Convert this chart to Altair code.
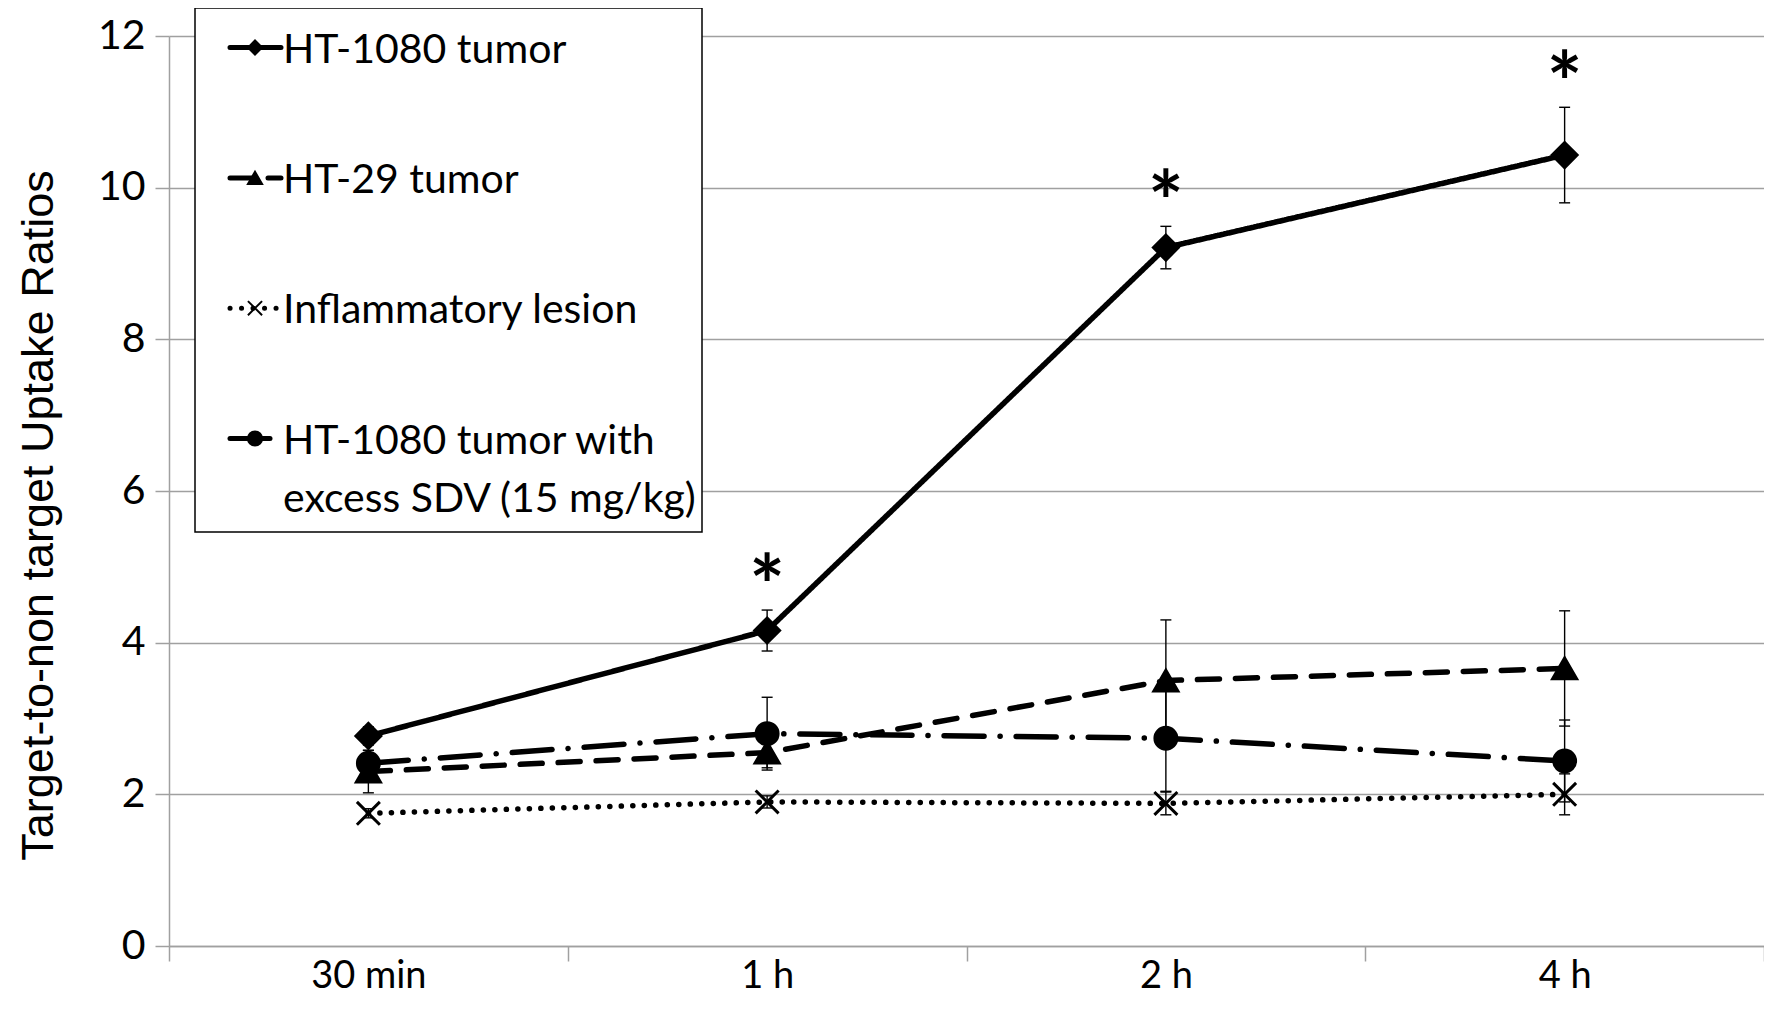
import altair as alt
import pandas as pd

# ---------------- data ----------------
times = ["30 min", "1 h", "2 h", "4 h"]
series = [
    "HT-1080 tumor",
    "HT-29 tumor",
    "Inflammatory lesion",
    "HT-1080 tumor with\nexcess SDV (15 mg/kg)",
]

ht1080_mean = [2.77, 4.16, 9.21, 10.43]
ht1080_err = [0.12, 0.27, 0.28, 0.63]
ht29_mean = [2.30, 2.55, 3.50, 3.66]
ht29_err = [0.28, 0.20, 0.80, 0.76]
infl_mean = [1.75, 1.90, 1.88, 2.00]
infl_err = [0.06, 0.08, 0.15, 0.27]
sdv_mean = [2.41, 2.80, 2.74, 2.44]
sdv_err = [0.17, 0.48, 0.70, 0.54]
ht1080_significant = [False, True, True, True]

means = [ht1080_mean, ht29_mean, infl_mean, sdv_mean]
errs = [ht1080_err, ht29_err, infl_err, sdv_err]
sigs = [ht1080_significant, [False] * 4, [False] * 4, [False] * 4]

rows = []
for s, m, e, g in zip(series, means, errs, sigs):
    for t, mv, ev, gv in zip(times, m, e, g):
        rows.append({"series": s, "time": t, "mean": mv, "err": ev, "sig": gv})
df = pd.DataFrame(rows)
legend_df = pd.DataFrame({"series": series, "row": list(range(len(series)))})

# ---------------- styles ----------------
GRID = "#a0a0a0"
dash_scale = alt.Scale(domain=series, range=[[1, 0], [22, 16], [0.1, 11.4], [40, 16, 0.1, 16]])
shape_scale = alt.Scale(domain=series, range=["diamond", "triangle-up", "M-1,-1L1,1M-1,1L1,-1", "circle"])
size_scale = alt.Scale(domain=series, range=[620, 480, 420, 560])

x_enc = alt.X(
    "time:N",
    sort=times,
    scale=alt.Scale(type="band", domain=times, paddingInner=0, paddingOuter=0),
    axis=alt.Axis(
        title=None, tickBand="extent", tickSize=15, tickColor=GRID, tickWidth=1.5,
        domainColor=GRID, domainWidth=1.5, labelFont="Lato", labelFontSize=38,
        labelColor="black", labelPadding=-4, labelAngle=0, grid=False,
    ),
)
y_axis = alt.Axis(
    values=[0, 2, 4, 6, 8, 10, 12], format="d", grid=True, gridColor=GRID, gridWidth=1.5,
    domainColor=GRID, domainWidth=1.5, tickColor=GRID, tickWidth=1.5, tickSize=14,
    labelFont="Lato", labelFontSize=41, labelColor="black", labelPadding=10,
    title="Target-to-non target Uptake Ratios", titleFont="Liberation Sans",
    titleFontSize=45, titleFontWeight="normal", titleColor="black",
    titleAngle=270, titleX=-131, titleY=479, titleAlign="center", titleBaseline="middle",
)
y_scale = alt.Scale(domain=[0, 12], nice=False)

base = alt.Chart(df)

lines = base.mark_line(color="black", strokeWidth=5.5, strokeCap="round").encode(
    x=x_enc,
    y=alt.Y("mean:Q", scale=y_scale, axis=y_axis),
    strokeDash=alt.StrokeDash("series:N", scale=dash_scale, legend=None),
)

eb = base.transform_calculate(lo="datum.mean - datum.err", hi="datum.mean + datum.err")
err_rules = eb.mark_rule(color="black", strokeWidth=1.4).encode(
    x=x_enc, y=alt.Y("lo:Q"), y2="hi:Q"
)
cap_lo = eb.mark_tick(color="black", thickness=1.4, size=11, opacity=1).encode(x=x_enc, y="lo:Q")
cap_hi = eb.mark_tick(color="black", thickness=1.4, size=11, opacity=1).encode(x=x_enc, y="hi:Q")

points = base.mark_point(filled=True, opacity=1, color="black", stroke="black", strokeWidth=3).encode(
    x=x_enc,
    y="mean:Q",
    shape=alt.Shape("series:N", scale=shape_scale, legend=None),
    size=alt.Size("series:N", scale=size_scale, legend=None),
)

stars = eb.transform_filter("datum.sig").mark_text(
    text="*", font="Lato", fontSize=84, fontWeight="bold", color="black",
    baseline="alphabetic", align="center", dy=6,
).encode(x=x_enc, y="hi:Q")

# ---------------- legend (drawn inside the plot, top-left) ----------------
box = alt.Chart(pd.DataFrame({"k": [0]})).mark_rect(
    fill="white", stroke="black", strokeWidth=1.5
).encode(x=alt.value(26), x2=alt.value(533), y=alt.value(-28), y2=alt.value(496))

leg = alt.Chart(legend_df).transform_calculate(ly="11.6 + 130.3 * datum.row")
leg_rule = leg.mark_rule(color="black", strokeWidth=5, strokeCap="round").encode(
    x=alt.value(61), x2=alt.value(112),
    y=alt.Y("ly:Q", scale=None),
    strokeDash=alt.StrokeDash("series:N", scale=dash_scale, legend=None),
)
leg_pt = leg.mark_point(filled=True, opacity=1, color="black", stroke="black", strokeWidth=2).encode(
    x=alt.value(86),
    y=alt.Y("ly:Q", scale=None),
    shape=alt.Shape("series:N", scale=shape_scale, legend=None),
    size=alt.value(200),
)
leg_text = leg.mark_text(
    align="left", baseline="alphabetic", dy=15, font="Lato", fontSize=41,
    lineBreak="\n", lineHeight=58, color="black",
).encode(x=alt.value(114), y=alt.Y("ly:Q", scale=None), text="series:N")

chart = alt.layer(
    lines, err_rules, cap_lo, cap_hi, points, stars, box, leg_rule, leg_pt, leg_text
).properties(
    width=1595, height=910, autosize="none",
    padding={"left": 161, "top": 28, "right": 0, "bottom": 79},
    background="white",
).configure_view(strokeWidth=0)

chart.save("out.html", embed_options={"renderer": "svg", "actions": False})
